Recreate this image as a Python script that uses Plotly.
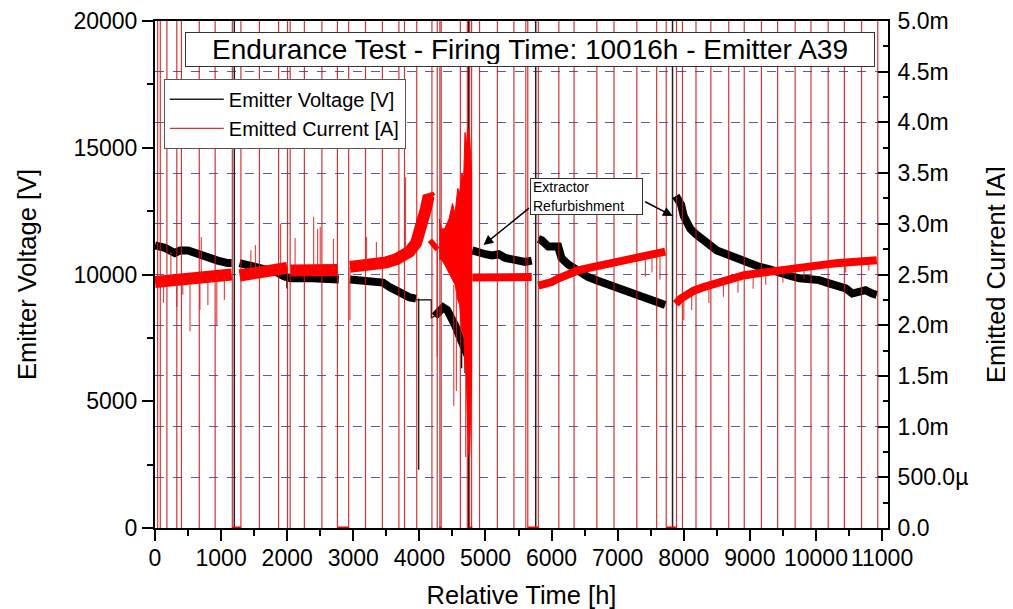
import plotly.graph_objects as go

# ---------------- data ----------------
# Emitter voltage [V]; None separates data blocks
volt_time = [0, 150, 300, 380, 500, 650, 800, 950, 1100, 1160, None,
             1280, 1400, 1550, 1700, 1850, 1950, 2050, 2300, 2550, 2780, None,
             2950, 3100, 3300, 3450, 3550, 3650, 3750, 3850, 3950, None,
             4230, 4280, 4360, 4420, 4480, 4540, 4600, 4650, 4700, 4730, None,
             4800, 4900, 5000, 5100, 5200, 5300, 5400, 5500, 5600, 5700, None,
             5800, 5850, 5950, 6050, 6100, 6150, 6250, 6400, 6550, 6700, 6850,
             7000, 7150, 7300, 7450, 7600, 7720, None,
             7880, 7920, 7960, 8000, 8050, 8100, 8180, 8260, 8360, 8500, 8650,
             8800, 9000, 9150, 9300, 9450, 9600, 9750, 9900, 10050, 10200,
             10350, 10450, 10550, 10650, 10750, 10850, 10920]
volt_value = [11150, 11050, 10850, 10950, 10950, 10800, 10700, 10550, 10450, 10450, None,
              10450, 10380, 10330, 10230, 10080, 9930, 9850, 9860, 9830, 9800, None,
              9800, 9780, 9720, 9680, 9500, 9380, 9200, 9100, 9050, None,
              8350, 8450, 8700, 8600, 8350, 8000, 7600, 7300, 7000, 6800, None,
              10950, 10850, 10800, 10750, 10800, 10650, 10600, 10550, 10500, 10550, None,
              11400, 11350, 11100, 11050, 11100, 10650, 10400, 10150, 9900, 9750, 9620,
              9480, 9350, 9200, 9050, 8900, 8800, None,
              13100, 12900, 12750, 12300, 12050, 11800, 11600, 11450, 11200, 10950, 10800,
              10650, 10400, 10300, 10200, 10050, 9950, 9850, 9800, 9780, 9650,
              9550, 9450, 9250, 9300, 9380, 9250, 9200]

# thin voltage pieces (bridged gap, dropouts)
volt_thin_time = [3950, 4180, 4180, 4230, None, 1995, 1995, None, 3990, 3990,
                  None, 4640, 4640, None, 4690, 4690]
volt_thin_value = [9000, 9000, 8300, 8350, None, 9900, 9450, None, 9050, 2300,
                   None, 7350, 6300, None, 7050, 6100]
volt_dropout_time = [1200, 4745, 5760, 7830]
volt_dropout_top = 25000

# Emitted current [A] - first part of the test
curr_early_time = [0, 200, 400, 600, 800, 1000, 1160, None,
                   1280, 1500, 1700, 1900, 2000, None, 2050, 2300, 2550, 2760, None,
                   2950, 3100, 3300, 3500, 3650, 3750, 3850, 3950, 4000, 4050, 4100, 4140, 4175, None,
                   4185, 4250]
curr_early_value = [2.425e-3, 2.44e-3, 2.45e-3, 2.46e-3, 2.47e-3, 2.49e-3, 2.50e-3, None,
                    2.49e-3, 2.51e-3, 2.54e-3, 2.56e-3, 2.565e-3, None, 2.54e-3, 2.54e-3, 2.545e-3, 2.545e-3, None,
                    2.575e-3, 2.58e-3, 2.60e-3, 2.62e-3, 2.65e-3, 2.69e-3, 2.725e-3, 2.81e-3, 2.90e-3,
                    3.025e-3, 3.15e-3, 3.275e-3, 3.25e-3, None,
                    2.775e-3, 2.81e-3]
# Emitted current [A] - after the first extractor refurbishment
curr_late_time = [4800, 5000, 5200, 5400, 5600, 5700, None,
                  5800, 5900, 6000, 6100, 6200, 6400, 6600, 6800, 7000, 7200, 7400, 7600, 7720, None,
                  7880, 7950, 8050, 8150, 8300, 8500, 8700, 8900, 9100, 9300, 9500, 9700,
                  9900, 10100, 10300, 10500, 10700, 10920]
curr_late_value = [2.47e-3, 2.47e-3, 2.47e-3, 2.47e-3, 2.475e-3, 2.475e-3, None,
                   2.39e-3, 2.40e-3, 2.425e-3, 2.46e-3, 2.49e-3, 2.54e-3, 2.57e-3, 2.595e-3, 2.62e-3,
                   2.645e-3, 2.675e-3, 2.705e-3, 2.725e-3, None,
                   2.21e-3, 2.26e-3, 2.30e-3, 2.34e-3, 2.375e-3, 2.42e-3, 2.46e-3, 2.49e-3, 2.51e-3,
                   2.53e-3, 2.55e-3, 2.565e-3, 2.58e-3, 2.595e-3, 2.61e-3, 2.62e-3, 2.64e-3, 2.64e-3]

# unstable period before the extractor refurbishment (envelope of the current)
osc_time = [4300, 4330, 4380, 4450, 4500, 4540, 4580, 4610, 4640, 4670, 4690, 4710, 4730, 4760, 4790]
osc_upper = [3.05e-3, 2.95e-3, 2.95e-3, 3.05e-3, 3.2e-3, 3.1e-3, 3.35e-3, 3.3e-3, 3.5e-3,
             3.45e-3, 3.9e-3, 3.75e-3, 3.95e-3, 3.85e-3, 3.5e-3]
osc_lower = [2.65e-3, 2.65e-3, 2.6e-3, 2.52e-3, 2.45e-3, 2.4e-3, 2.25e-3, 2.2e-3, 1.95e-3,
             1.9e-3, 1.6e-3, 1.5e-3, 1.0e-3, 0.72e-3, 1.5e-3]

# full-scale current events (vertical lines)
spike_time = [40, 80, 180, 330, 400, 670, 910, 1170, 1300, 1580, 1870, 2005, 2045, 2260,
              2525, 2760, 2930, 3185, 3440, 3690, 3775, 3960, 4190, 4270, 4310, 4330,
              4620, 4725, 4760, 4790, 4910, 5180, 5430, 5610, 5640, 5800, 6110, 6340,
              6685, 6945, 7290, 7590, 7735, 7890, 7980, 8185, 8410, 8680, 8915, 9175,
              9420, 9685, 9925, 10185, 10430, 10690, 10935]
spike_top = 6e-3

# periods with zero current
zero_start = [1170, 2760, 4300, 4745, 5640, 7740]
zero_end = [1300, 2930, 4330, 4800, 5800, 7880]

# small current excursions [A]: time, from, to
minor_time = [130, 330, 420, 530, 680, 700, 800, 935, 1050, 240,
              1450, 1520, 1900, 2120, 2400, 2460, 2500, 2700, 2950,
              3200, 3350, 3790, 4270, 4520, 4560, 4700, 4740,
              7420, 7520, 7640, 8000, 8120, 8380, 8600, 8820, 9050, 9240, 9500, 9820, 10450, 10800]
minor_from = [2.43e-3, 2.44e-3, 2.45e-3, 2.45e-3, 2.46e-3, 2.46e-3, 2.47e-3, 2.48e-3, 2.49e-3, 2.44e-3,
              2.50e-3, 2.51e-3, 2.56e-3, 2.54e-3, 2.54e-3, 2.54e-3, 2.545e-3, 2.545e-3, 2.575e-3,
              2.58e-3, 2.59e-3, 2.70e-3, 2.80e-3, 2.40e-3, 2.35e-3, 1.6e-3, 1.0e-3,
              2.68e-3, 2.69e-3, 2.71e-3, 2.28e-3, 2.33e-3, 2.39e-3, 2.44e-3, 2.48e-3, 2.51e-3, 2.53e-3, 2.55e-3, 2.58e-3, 2.62e-3, 2.64e-3]
minor_to = [2.22e-3, 2.18e-3, 2.30e-3, 1.94e-3, 2.15e-3, 2.87e-3, 2.20e-3, 2.00e-3, 2.25e-3, 2.72e-3,
            2.74e-3, 2.79e-3, 3.0e-3, 2.86e-3, 3.07e-3, 2.95e-3, 2.97e-3, 2.85e-3, 2.05e-3,
            2.87e-3, 2.82e-3, 3.46e-3, 1.69e-3, 1.2e-3, 1.35e-3, 0.7e-3, 0.72e-3,
            2.48e-3, 2.52e-3, 2.45e-3, 2.05e-3, 2.15e-3, 2.22e-3, 2.28e-3, 2.32e-3, 2.36e-3, 2.40e-3, 2.42e-3, 2.46e-3, 2.52e-3, 2.54e-3]

# axis ticks
x_ticks = [0, 1000, 2000, 3000, 4000, 5000, 6000, 7000, 8000, 9000, 10000, 11000]
x_ticktext = ["0", "1000", "2000", "3000", "4000", "5000", "6000", "7000", "8000", "9000", "10000", "11000"]
y_ticks = [0, 5000, 10000, 15000, 20000]
y_ticktext = ["0", "5000", "10000", "15000", "20000"]
y2_tickvals = [0, 0.5e-3, 1.0e-3, 1.5e-3, 2.0e-3, 2.5e-3, 3.0e-3, 3.5e-3, 4.0e-3, 4.5e-3, 5.0e-3]
y2_ticktext = ["0.0", "500.0µ", "1.0m", "1.5m", "2.0m", "2.5m", "3.0m", "3.5m", "4.0m", "4.5m", "5.0m"]

title_text = "Endurance Test - Firing Time: 10016h - Emitter A39"
note_text = "Extractor<br>Refurbishment"
note_target_time = [4970, 7833]
note_target_volt = [11164, 12308]
note_tail_time = [5682, 7394]
note_tail_volt = [12663, 12900]

# ---------------- figure ----------------
FONT = "Arial, 'Liberation Sans', sans-serif"
RED = "#ff0000"
SPIKE_RED = "rgba(200,20,20,0.85)"

def vlines(times, lo, hi):
    xs, ys = [], []
    for t in times:
        xs += [t, t, None]
        ys += [lo, hi, None]
    return xs, ys

def segs(times, lo, hi):
    xs, ys = [], []
    for t, a, b in zip(times, lo, hi):
        xs += [t, t, None]
        ys += [a, b, None]
    return xs, ys

fig = go.Figure()

dx, dy = vlines(volt_dropout_time, 0, volt_dropout_top)
fig.add_trace(go.Scatter(x=dx, y=dy, mode="lines", name="Emitter Voltage [V]",
                         line=dict(color="#202020", width=1.5), yaxis="y"))
fig.add_trace(go.Scatter(x=volt_time, y=volt_value, mode="lines", showlegend=False,
                         line=dict(color="black", width=8), yaxis="y"))
fig.add_trace(go.Scatter(x=volt_thin_time, y=volt_thin_value, mode="lines", showlegend=False,
                         line=dict(color="black", width=1.2), yaxis="y"))

sx, sy = vlines(spike_time, 0, spike_top)
fig.add_trace(go.Scatter(x=sx, y=sy, mode="lines", name="Emitted Current [A]",
                         line=dict(color=SPIKE_RED, width=1.2), yaxis="y2"))
fig.add_trace(go.Scatter(x=curr_early_time, y=curr_early_value, mode="lines", showlegend=False,
                         line=dict(color=RED, width=12), yaxis="y2"))
fig.add_trace(go.Scatter(x=curr_late_time, y=curr_late_value, mode="lines", showlegend=False,
                         line=dict(color=RED, width=8), yaxis="y2"))
fig.add_trace(go.Scatter(x=osc_time + osc_time[::-1], y=osc_upper + osc_lower[::-1],
                         mode="lines", fill="toself", fillcolor=RED, showlegend=False,
                         line=dict(color=RED, width=1), yaxis="y2"))
mx, my = segs(minor_time, minor_from, minor_to)
fig.add_trace(go.Scatter(x=mx, y=my, mode="lines", showlegend=False,
                         line=dict(color="rgba(220,30,30,0.8)", width=1.2), yaxis="y2"))
zx, zy = [], []
for a, b in zip(zero_start, zero_end):
    zx += [a, b, None]
    zy += [0, 0, None]
fig.add_trace(go.Scatter(x=zx, y=zy, mode="lines", showlegend=False,
                         line=dict(color=RED, width=3), yaxis="y2"))

annotations = [
    dict(xref="paper", yref="paper", x=0.5115, y=0.944, xanchor="center", yanchor="middle",
         text=title_text, showarrow=False,
         font=dict(family=FONT, size=28, color="black"), bgcolor="white",
         bordercolor="#333333", borderwidth=1, borderpad=2, width=684, height=29),
    dict(xref="paper", yref="paper", x=0.589, y=0.654, xanchor="center", yanchor="middle",
         text=note_text, showarrow=False,
         align="left", font=dict(family=FONT, size=14, color="black"), bgcolor="white",
         bordercolor="#333333", borderwidth=1, borderpad=2, width=107, height=31),
]
for tx, ty, ax, ay in zip(note_target_time, note_target_volt, note_tail_time, note_tail_volt):
    annotations.append(dict(xref="x", yref="y", x=tx, y=ty, axref="x", ayref="y", ax=ax, ay=ay,
                            text="", showarrow=True, arrowhead=2, arrowsize=1.3,
                            arrowwidth=1.5, arrowcolor="black"))

# the page body adds an 8 px offset, so the figure is drawn 8 px smaller
fig.update_layout(
    width=1005, height=601,
    margin=dict(l=147, r=125, t=13, b=81, autoexpand=False),
    paper_bgcolor="white", plot_bgcolor="white",
    font=dict(family=FONT, color="black"),
    showlegend=True,
    legend=dict(x=0.012, y=0.886, xanchor="left", yanchor="top",
                bgcolor="white", bordercolor="#555555", borderwidth=1,
                font=dict(family=FONT, size=20), tracegroupgap=0, itemwidth=54),
    xaxis=dict(range=[0, 11090], tickvals=x_ticks, ticktext=x_ticktext, showgrid=False,
               zeroline=False, automargin=False,
               showline=True, linecolor="black", linewidth=2, mirror=True,
               ticks="outside", ticklen=11, tickwidth=2, tickcolor="black",
               minor=dict(dtick=500, ticks="outside", ticklen=6, tickwidth=2, tickcolor="black"),
               tickfont=dict(family=FONT, size=23), ticklabelstandoff=-3,
               title=dict(text="Relative Time [h]", font=dict(family=FONT, size=25.5), standoff=18)),
    yaxis=dict(range=[0, 20000], tickvals=y_ticks, ticktext=y_ticktext, showgrid=False,
               zeroline=False, automargin=False,
               showline=True, linecolor="black", linewidth=2,
               ticks="outside", ticklen=11, tickwidth=2, tickcolor="black",
               minor=dict(dtick=2500, ticks="outside", ticklen=6, tickwidth=2, tickcolor="black"),
               tickfont=dict(family=FONT, size=23),
               title=dict(text="Emitter Voltage [V]", font=dict(family=FONT, size=25.5), standoff=30)),
    yaxis2=dict(range=[0, 5e-3], overlaying="y", side="right", tickvals=y2_tickvals,
                ticktext=y2_ticktext, showgrid=True, gridcolor="#5a5aa8", gridwidth=1,
                griddash="dash", zeroline=False, automargin=False,
                showline=True, linecolor="black", linewidth=2,
                ticks="inside", ticklen=10, tickwidth=2, tickcolor="black",
                minor=dict(dtick=0.25e-3, ticks="inside", ticklen=5, tickwidth=2, tickcolor="black"),
                ticklabelstandoff=3,
                tickfont=dict(family=FONT, size=23),
                title=dict(text="Emitted Current [A]", font=dict(family=FONT, size=25.5), standoff=20)),
    annotations=annotations,
)

fig.write_html("out.html")
